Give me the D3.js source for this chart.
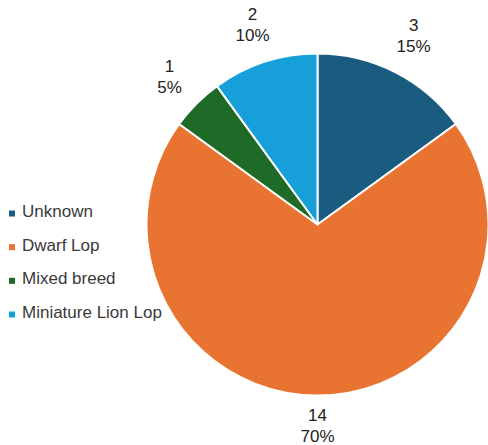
<!DOCTYPE html>
<html>
<head>
<meta charset="utf-8">
<script src="https://cdn.jsdelivr.net/npm/d3@7/dist/d3.min.js"></script>
<style>
  html, body { margin: 0; padding: 0; background: #fff; }
  svg { display: block; font-family: "Liberation Sans", Arial, Helvetica, sans-serif; }
</style>
</head>
<body>
<svg id="chart" width="488" height="445"></svg>
<script>
const categories = ["Unknown", "Dwarf Lop", "Mixed breed", "Miniature Lion Lop"];
const values = [3, 14, 1, 2];
const colors = ["#195c7f", "#e97432", "#1d6b27", "#169fd9"];

const W = 488, H = 445;
const cx = 317.5, cy = 224.5, R = 171;

const svg = d3.select("#chart");
const total = d3.sum(values);
const data = categories.map((c, i) => ({ name: c, value: values[i], color: colors[i] }));

const pie = d3.pie().value(d => d.value).sort(null).startAngle(0).endAngle(2 * Math.PI);
const arcs = pie(data);
const arc = d3.arc().innerRadius(0).outerRadius(R);

const g = svg.append("g").attr("transform", `translate(${cx},${cy})`);

g.selectAll("path.slice")
  .data(arcs)
  .join("path")
  .attr("class", "slice")
  .attr("d", arc)
  .attr("fill", d => d.data.color)
  .attr("stroke", "#fff")
  .attr("stroke-width", 2)
  .attr("stroke-linejoin", "round");

// Labels
const fontSize = 17, lineH = 21, gap = 14;
const labels = g.selectAll("text.lbl")
  .data(arcs)
  .join("text")
  .attr("class", "lbl")
  .attr("text-anchor", "middle")
  .attr("fill", "#222")
  .style("font-size", fontSize + "px");

labels.append("tspan").attr("x", 0).attr("dy", 0).text(d => d.data.value);
labels.append("tspan").attr("x", 0).attr("dy", lineH).text(d => d3.format(".0%")(d.data.value / total));

labels.each(function(d) {
  const bb = this.getBBox();
  const mid = (d.startAngle + d.endAngle) / 2;
  const s = Math.sin(mid), c = -Math.cos(mid);
  const ext = (bb.width / 2) * Math.abs(s) + (bb.height / 2) * Math.abs(c);
  const r = R + gap * (0.75 + 0.25 * Math.abs(s) + 0.25 * Math.max(0, -c)) + ext;
  const px = r * s, py = r * c;
  const bcx = bb.x + bb.width / 2, bcy = bb.y + bb.height / 2;
  d3.select(this).attr("transform", `translate(${px - bcx},${py - bcy})`);
});

// Legend
const legend = svg.append("g");
const legY = d3.scalePoint().domain(categories).range([217, 318]);
const items = legend.selectAll("g.item")
  .data(data)
  .join("g")
  .attr("class", "item")
  .attr("transform", d => `translate(0,${legY(d.name)})`);
items.append("rect")
  .attr("x", 9).attr("y", -6.5).attr("width", 6).attr("height", 6)
  .attr("fill", d => d.color);
items.append("text")
  .attr("x", 22).attr("y", 0)
  .attr("fill", "#3a3a3a")
  .style("font-size", "17px")
  .text(d => d.name);
</script>
</body>
</html>
